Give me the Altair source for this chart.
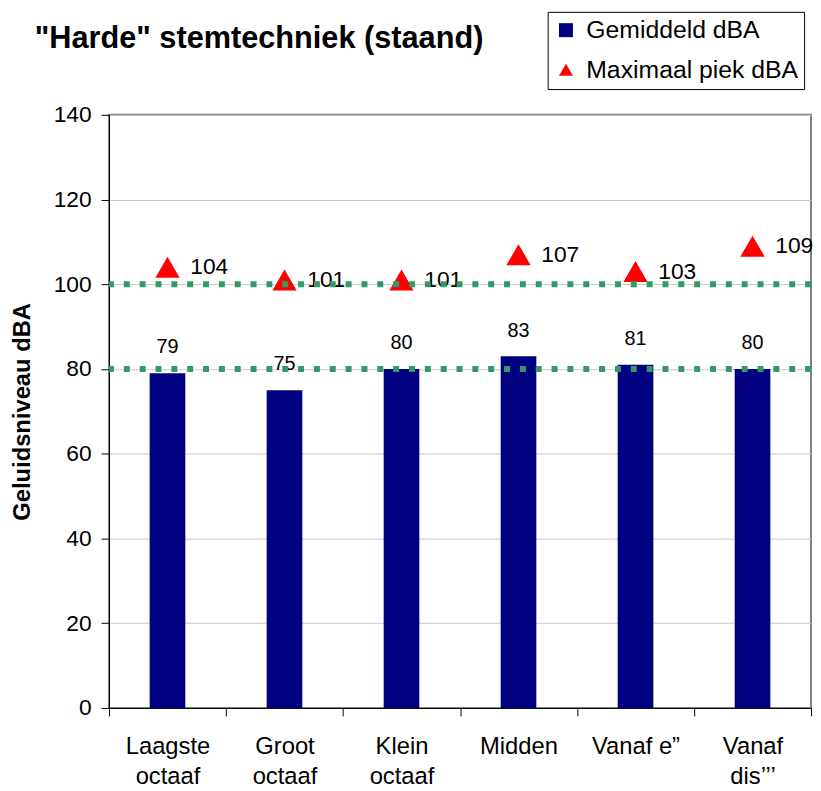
import altair as alt
import pandas as pd

# ---- data -------------------------------------------------------------
categories = ["Laagste\noctaaf", "Groot\noctaaf", "Klein\noctaaf", "Midden", "Vanaf e\u201d", "Vanaf\ndis\u2019\u2019\u2019"]
gemiddeld = [79, 75, 80, 83, 81, 80]
maximaal = [104, 101, 101, 107, 103, 109]
reference_levels = [80, 100]
series_names = ["Gemiddeld dBA", "Maximaal piek dBA"]
title_text = '"Harde" stemtechniek (staand)'
y_ticks = [0, 20, 40, 60, 80, 100, 120, 140]

FONT = "Liberation Sans"

df = pd.DataFrame({
    "cat": categories,
    "gem": gemiddeld,
    "max": maximaal,
    "s_gem": series_names[0],
    "s_max": series_names[1],
})
refs = pd.DataFrame({"level": reference_levels})
tdf = pd.DataFrame({"t": [title_text]})

x_enc = alt.X(
    "cat:N", sort=categories, title=None,
    scale=alt.Scale(paddingInner=0, paddingOuter=0),
    axis=alt.Axis(
        labelExpr="isValid(datum.value) ? split(datum.value, '\\n') : ''",
        labelAngle=0, tickBand="extent",
        tickSize=8, labelFontSize=24, labelFont=FONT, labelColor="black",
        labelPadding=19, labelLineHeight=30, labelBaseline="top",
        domainColor="black", tickColor="black", grid=False,
    ),
)

y_scale = alt.Scale(domain=[0, 140], nice=False, zero=True)
y_axis = alt.Axis(
    values=y_ticks, title="Geluidsniveau dBA", titleFontSize=24, titleFont=FONT,
    titleFontWeight="bold", titleColor="black", titleX=-87, titleBaseline="middle",
    labelFontSize=23, labelFont=FONT, labelColor="black", labelPadding=10,
    tickSize=8, tickColor="black", domainColor="black",
    gridColor="#c8c8c8", gridWidth=1,
)

legend = alt.Legend(
    orient="none", legendX=443, legendY=-104, title=None,
    labelFontSize=25, labelFont=FONT, labelColor="black", labelLimit=400,
    symbolSize=200, symbolStrokeWidth=0, strokeColor="black", fillColor="white",
    padding=6, rowPadding=14, labelOffset=8, cornerRadius=0,
)
color_scale = alt.Scale(domain=series_names, range=["#000080", "#FF0000"])
shape_scale = alt.Scale(domain=series_names, range=["square", "triangle-up"])

base = alt.Chart(df)

bars = base.mark_bar(size=36, color="#000080").encode(
    x=x_enc,
    y=alt.Y("gem:Q", scale=y_scale, axis=y_axis),
    color=alt.Color("s_gem:N", scale=color_scale, legend=legend),
)

bar_labels = base.mark_text(dy=-26, fontSize=20, font=FONT, baseline="middle", color="black").encode(
    x=alt.X("cat:N", sort=categories),
    y=alt.Y("gem:Q", scale=y_scale, axis=y_axis),
    text="gem:Q",
)

tris = base.mark_point(filled=True, size=600, opacity=1).encode(
    x=alt.X("cat:N", sort=categories),
    y=alt.Y("max:Q", scale=y_scale, axis=y_axis),
    color=alt.Color("s_max:N", scale=color_scale, legend=legend),
    shape=alt.Shape("s_max:N", scale=shape_scale, legend=legend),
)

tri_labels = base.mark_text(align="left", dx=23, fontSize=23, font=FONT, baseline="middle", color="black").encode(
    x=alt.X("cat:N", sort=categories),
    y=alt.Y("max:Q", scale=y_scale, axis=y_axis),
    text="max:Q",
)

rules = alt.Chart(refs).mark_rule(color="#339966", strokeWidth=6, strokeDash=[6, 10]).encode(
    y=alt.Y("level:Q", scale=y_scale, axis=y_axis),
)

title = alt.Chart(tdf).mark_text(
    align="left", baseline="alphabetic", fontSize=31, fontWeight="bold", font=FONT, color="black"
).encode(text="t:N", x=alt.value(-75), y=alt.value(-67))

chart = alt.layer(bars, bar_labels, tris, tri_labels, rules, title).properties(
    width=709, height=599,
    padding={"left": 102, "top": 104, "right": 2, "bottom": 80},
    autosize=alt.AutoSizeParams(type="none"),
).configure_view(stroke="#808080", strokeWidth=2)

chart.save("out.html", embed_options={"renderer": "svg", "actions": False})
